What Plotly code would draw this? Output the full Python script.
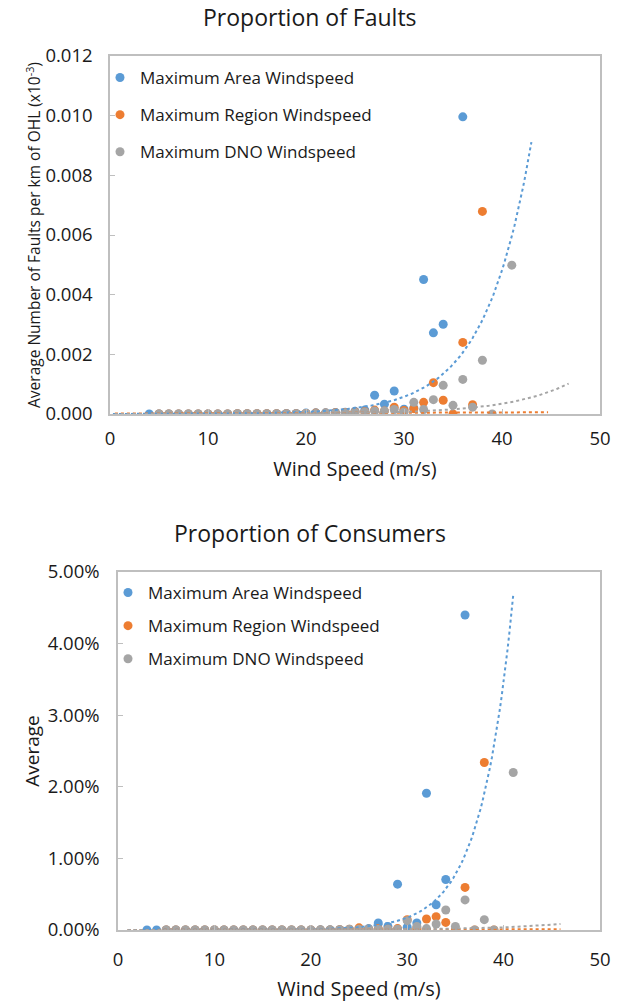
import numpy as np
import plotly.graph_objects as go

# ---------------- data: Proportion of Faults ----------------
faults_area_ws = [4, 5, 6, 7, 8, 9, 10, 11, 12, 13, 14, 15, 16, 17, 18, 19, 20, 21, 22, 23,
                  24, 25, 26, 27, 28, 29, 30, 31, 32, 33, 34, 36]
faults_area = [0, 0, 0, 0, 0, 0, 0, 0, 0, 0.00001, 0.00001, 0.00001, 0.00001, 0.00001, 0.00002,
               0.00002, 0.00003, 0.00004, 0.00004, 0.00005, 0.00006, 0.00009, 0.00013, 0.00063,
               0.00033, 0.00077, 0.00016, 0.00020, 0.00451, 0.00272, 0.00301, 0.00996]

faults_region_ws = [5, 6, 7, 8, 9, 10, 11, 12, 13, 14, 15, 16, 17, 18, 19, 20, 21, 22, 23, 24,
                    25, 26, 27, 28, 29, 30, 31, 32, 33, 34, 35, 36, 37, 38]
faults_region = [0, 0, 0, 0, 0, 0, 0, 0, 0.00001, 0.00001, 0.00001, 0.00001, 0.00001, 0.00001,
                 0.00001, 0.00002, 0.00003, 0.00003, 0.00004, 0.00005, 0.00007, 0.00008, 0.00013,
                 0.00010, 0.00023, 0.00012, 0.00018, 0.00039, 0.00105, 0.00046, 0.0, 0.00240,
                 0.00031, 0.00679]

faults_dno_ws = [5, 6, 7, 8, 9, 10, 11, 12, 13, 14, 15, 16, 17, 18, 19, 20, 21, 22, 23, 24,
                 25, 26, 27, 28, 29, 30, 31, 32, 33, 34, 35, 36, 37, 38, 39, 41]
faults_dno = [0, 0, 0, 0, 0, 0, 0, 0, 0.00001, 0.00001, 0.00001, 0.00001, 0.00001, 0.00001,
              0.00001, 0.00002, 0.00002, 0.00003, 0.00003, 0.00004, 0.00005, 0.00007, 0.00010,
              0.00010, 0.00015, 0.00007, 0.00039, 0.00015, 0.00048, 0.00096, 0.00029, 0.00116,
              0.00023, 0.00180, 0.0, 0.00499]

# exponential trendlines y = a*exp(b*x): [a, b, x_start, x_end]
faults_trend_area = [9.8e-7, 0.2125, 0.3, 43.0]
faults_trend_region = [1.5e-5, 0.03, 0.5, 44.7]
faults_trend_dno = [5.7e-7, 0.16, 0.5, 46.8]

# ---------------- data: Proportion of Consumers ----------------
cons_area_ws = [3, 4, 5, 6, 7, 8, 9, 10, 11, 12, 13, 14, 15, 16, 17, 18, 19, 20, 21, 22, 23,
                24, 25, 26, 27, 28, 29, 30, 31, 32, 33, 34, 36]
cons_area = [0, 0, 0, 0, 0, 0, 0, 0, 0, 0, 0, 0, 0, 0, 0, 0, 0, 0, 0.00002, 0.00002, 0.00003,
             0.00005, 0.0001, 0.0002, 0.00098, 0.0005, 0.0064, 0.0004, 0.00098, 0.0191,
             0.00353, 0.00706, 0.0440]

cons_region_ws = [5, 6, 7, 8, 9, 10, 11, 12, 13, 14, 15, 16, 17, 18, 19, 20, 21, 22, 23, 24,
                  25, 26, 27, 28, 29, 30, 31, 32, 33, 34, 35, 36, 37, 38, 39]
cons_region = [0, 0, 0, 0, 0, 0, 0, 0, 0, 0, 0, 0, 0, 0, 0, 0, 0, 0, 0.00005, 0.0001, 0.0003,
               0.0001, 0.0002, 0.0001, 0.0002, 0.00144, 0.0003, 0.00153, 0.00186, 0.00106, 0.0,
               0.00595, 0.0, 0.0234, 0.0]

cons_dno_ws = [5, 6, 7, 8, 9, 10, 11, 12, 13, 14, 15, 16, 17, 18, 19, 20, 21, 22, 23, 24,
               25, 26, 27, 28, 29, 30, 31, 32, 33, 34, 35, 36, 37, 38, 39, 41]
cons_dno = [0, 0, 0, 0, 0, 0, 0, 0, 0, 0, 0, 0, 0, 0, 0, 0, 0, 0, 0.00005, 0.0001, 0.0001,
            0.0001, 0.0001, 0.0001, 0.0001, 0.0013, 0.0005, 0.0002, 0.00084, 0.0028, 0.0005,
            0.0042, 0.0, 0.00144, 0.0, 0.0220]

cons_trend_area = [2.13e-7, 0.30, 1.0, 41.0]
cons_trend_region = [1.0e-5, 0.05, 1.0, 45.9]
cons_trend_dno = [1.09e-6, 0.145, 1.0, 45.9]

series_names = ["Maximum Area Windspeed", "Maximum Region Windspeed", "Maximum DNO Windspeed"]
colors = ["#5B9BD5", "#ED7D31", "#A5A5A5"]
x_ticks = [0, 10, 20, 30, 40, 50]

W, H = 620, 1004
FONT = "Open Sans"
TXT = "#1a1a1a"
GRID = "#BFBFBF"


def trend(params):
    a, b, x0, x1 = params
    xs = np.linspace(x0, x1, 200)
    return xs, a * np.exp(b * xs)


fig = go.Figure()

panels = [
    ("x", "y", "legend", [(faults_area_ws, faults_area), (faults_region_ws, faults_region),
                          (faults_dno_ws, faults_dno)],
     [faults_trend_area, faults_trend_region, faults_trend_dno]),
    ("x2", "y2", "legend2", [(cons_area_ws, cons_area), (cons_region_ws, cons_region),
                             (cons_dno_ws, cons_dno)],
     [cons_trend_area, cons_trend_region, cons_trend_dno]),
]

for xa, ya, leg, data, trends in panels:
    for i, (xs, ys) in enumerate(data):
        fig.add_trace(go.Scatter(
            x=xs, y=ys, mode="markers", name=series_names[i], xaxis=xa, yaxis=ya,
            legend=leg, legendgroup=leg + str(i),
            marker=dict(color=colors[i], size=9, line=dict(width=0)),
        ))
    for i, tp in enumerate(trends):
        tx, ty = trend(tp)
        fig.add_trace(go.Scatter(
            x=tx, y=ty, mode="lines", xaxis=xa, yaxis=ya, showlegend=False,
            line=dict(color=colors[i], width=2, dash="dot"), hoverinfo="skip",
        ))

axis_common = dict(
    showline=True, linecolor=GRID, linewidth=1.5, mirror=True, ticks="inside", ticklen=5,
    tickcolor=GRID, showgrid=False, zeroline=False, automargin=False,
    tickfont=dict(family=FONT, size=18.5, color=TXT),
)


def px_x(p):
    return p / W


def px_y(p):
    return 1 - p / H


fig.update_layout(
    width=W, height=H, margin=dict(l=0, r=0, t=0, b=0, autoexpand=False),
    paper_bgcolor="white", plot_bgcolor="white",
    font=dict(family=FONT, color=TXT),
    xaxis=dict(domain=[px_x(110), px_x(600)], anchor="y", range=[0, 50], tickvals=x_ticks,
               ticklabelstandoff=7,
               title=dict(text="Wind Speed (m/s)", font=dict(size=20), standoff=13),
               **axis_common),
    yaxis=dict(domain=[px_y(414), px_y(56)], anchor="x", range=[0, 0.012], dtick=0.002,
               tickformat=".3f", ticklabelstandoff=12,
               title=dict(text="Average Number of Faults per km of OHL (x10<sup>-3</sup>)",
                          font=dict(size=15.5), standoff=0),
               **axis_common),
    xaxis2=dict(domain=[px_x(118), px_x(600)], anchor="y2", range=[0, 50], tickvals=x_ticks,
                ticklabelstandoff=12,
                title=dict(text="Wind Speed (m/s)", font=dict(size=20), standoff=12),
                **axis_common),
    yaxis2=dict(domain=[px_y(930), px_y(572)], anchor="x2", range=[0, 0.05], dtick=0.01,
                tickformat=".2%", ticklabelstandoff=13,
                title=dict(text="Average", font=dict(size=19), standoff=3),
                **axis_common),
    legend=dict(x=px_x(100), y=px_y(60), xanchor="left", yanchor="top",
                font=dict(family=FONT, size=17, color=TXT), tracegroupgap=12,
                bgcolor="rgba(0,0,0,0)"),
    legend2=dict(x=px_x(108), y=px_y(575), xanchor="left", yanchor="top",
                 font=dict(family=FONT, size=17, color=TXT), tracegroupgap=8,
                 bgcolor="rgba(0,0,0,0)"),
    annotations=[
        dict(text="Proportion of Faults", x=px_x(310), y=px_y(17), xref="paper", yref="paper",
             yanchor="middle", showarrow=False, font=dict(family=FONT, size=23, color=TXT)),
        dict(text="Proportion of Consumers", x=px_x(310), y=px_y(533), xref="paper",
             yref="paper", yanchor="middle", showarrow=False,
             font=dict(family=FONT, size=23, color=TXT)),
    ],
)

fig.write_html("out.html")
